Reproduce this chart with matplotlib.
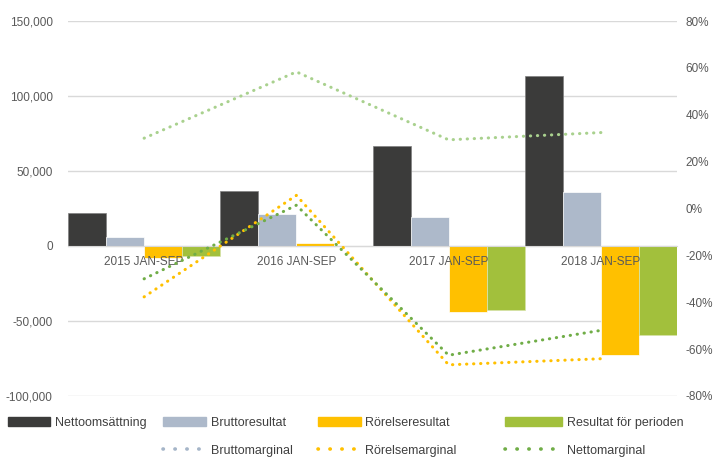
import numpy as np
import matplotlib
matplotlib.use('Agg')
import matplotlib.pyplot as plt
from matplotlib.patches import Patch
from matplotlib.lines import Line2D
from matplotlib.ticker import FuncFormatter

periods = ['2015 JAN-SEP', '2016 JAN-SEP', '2017 JAN-SEP', '2018 JAN-SEP']

nettoomsattning = [21800, 36700, 66700, 113300]
bruttoresultat = [6000, 21100, 19100, 36000]
rorelseresultat = [-7800, 2000, -44200, -72500]
resultat_perioden = [-6700, -300, -42500, -59000]

bruttomarginal = [0.300, 0.583, 0.293, 0.324]
rorelsemarginal = [-0.377, 0.056, -0.667, -0.641]
nettomarginal = [-0.300, 0.014, -0.626, -0.520]

plt.rcParams['font.family'] = ['Liberation Sans', 'DejaVu Sans']
txt_col = '#595959'
grid_col = '#d9d9d9'

c_netto = '#3b3b3a'
c_brutto = '#adb9ca'
c_rorelse = '#ffc000'
c_result = '#a2c03c'
c_bm_line = '#a9d18e'
c_bm_legend = '#a5b5c8'
c_nm = '#70ad47'

fig = plt.figure(figsize=(7.15, 4.57), dpi=100)
ax = fig.add_axes([68 / 715, 1 - 396 / 457, 609 / 715, 375 / 457])

x = np.arange(len(periods))
w = 0.25
ax.bar(x - 1.5 * w, nettoomsattning, w, color=c_netto, edgecolor='#808080', linewidth=0.5, zorder=2)
ax.bar(x - 0.5 * w, bruttoresultat, w, color=c_brutto, edgecolor='white', linewidth=0.5, zorder=2)
ax.bar(x + 0.5 * w, rorelseresultat, w, color=c_rorelse, edgecolor='white', linewidth=0.5, zorder=2)
ax.bar(x + 1.5 * w, resultat_perioden, w, color=c_result, edgecolor='#d6e3a8', linewidth=0.5, zorder=2)

ax.set_xlim(-0.5, len(periods) - 0.5)
ax.set_ylim(-100000, 150000)
ax.set_yticks(np.arange(-100000, 150001, 50000))
ax.yaxis.set_major_formatter(FuncFormatter(lambda v, p: f'{int(v):,}'))
ax.yaxis.grid(True, color=grid_col, linewidth=1, zorder=0)
ax.set_axisbelow(True)
for s in ['top', 'right', 'left']:
    ax.spines[s].set_visible(False)
ax.spines['bottom'].set_position(('data', 0))
ax.spines['bottom'].set_color(grid_col)
ax.set_xticks([])
ax.tick_params(axis='y', length=0, pad=11, labelsize=8.5, labelcolor=txt_col)

# category labels sit on top of the bars, just under the zero line
for xi, lab in zip(x, periods):
    ax.text(xi, -6500, lab, ha='center', va='top', fontsize=8.5, color=txt_col, zorder=5)

ax2 = ax.twinx()
dots = (0, (0.1, 2.2))
lkw = dict(linewidth=2.2, linestyle=dots, dash_capstyle='round')
ax2.plot(x, bruttomarginal, color=c_bm_line, **lkw)
ax2.plot(x, rorelsemarginal, color=c_rorelse, **lkw)
ax2.plot(x, nettomarginal, color=c_nm, **lkw)
ax2.set_ylim(-0.8, 0.8)
ax2.set_yticks(np.arange(-0.8, 0.81, 0.2))
ax2.yaxis.set_major_formatter(FuncFormatter(lambda v, p: f'{int(round(v * 100))}%'))
ax2.tick_params(axis='y', length=0, pad=6, labelsize=8.5, labelcolor=txt_col)
for s in ax2.spines.values():
    s.set_visible(False)

# legend, one block per column so the columns line up like the original
lgkw = dict(frameon=False, fontsize=9, handletextpad=0.4, borderpad=0,
            borderaxespad=0, labelspacing=1.25, loc='upper left')
anchor_y = 1 - 417 / 457
for tx in fig.legend(handles=[Patch(color=c_netto)], labels=['Nettoomsättning'],
                     bbox_to_anchor=(8 / 715, anchor_y), handlelength=3.4, **lgkw).get_texts():
    tx.set_color('#404040')
columns = [
    (163, 3.4, c_brutto, 'Bruttoresultat', c_bm_legend, 'Bruttomarginal'),
    (318, 3.4, c_rorelse, 'Rörelseresultat', c_rorelse, 'Rörelsemarginal'),
    (505, 4.6, c_result, 'Resultat för perioden', c_nm, 'Nettomarginal'),
]
for xs, hl, pc, pl, lc, ll in columns:
    hs = [Patch(color=pc), Line2D([], [], color=lc, linewidth=2.6, linestyle=(0, (0.1, 3.2)),
                                  dash_capstyle='round')]
    lg = fig.legend(handles=hs, labels=[pl, ll], bbox_to_anchor=(xs / 715, anchor_y),
                    handlelength=hl, **lgkw)
    for tx in lg.get_texts():
        tx.set_color('#404040')

fig.savefig('out.png', dpi=100, facecolor='white')
